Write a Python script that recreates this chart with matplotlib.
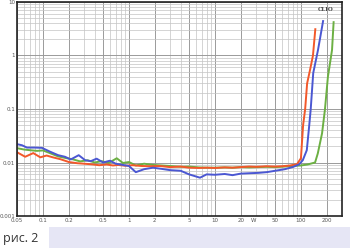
import numpy as np
import matplotlib.pyplot as plt
from matplotlib.ticker import LogLocator, FixedLocator, FixedFormatter, NullFormatter
from matplotlib.patches import Rectangle

# Power (W) and THD (%) for the three curves
p_red = [0.05, 0.062, 0.077, 0.093, 0.11, 0.13, 0.16, 0.2, 0.25, 0.3, 0.38, 0.45,
         0.55, 0.65, 0.75, 0.9, 1.1, 1.4, 1.8, 2.3, 3, 4, 5, 6.5, 8, 10, 13, 16,
         20, 25, 30, 40, 50, 60, 75, 90, 100, 106, 112, 118, 128, 138, 147]
thd_red = [0.0155, 0.0128, 0.0150, 0.0125, 0.0135, 0.0125, 0.0115, 0.0102, 0.0097,
           0.0095, 0.0092, 0.0089, 0.0092, 0.0088, 0.0090, 0.0087, 0.0089, 0.0086,
           0.0085, 0.0086, 0.0082, 0.0084, 0.0080, 0.0079, 0.0080, 0.0079, 0.0081,
           0.0080, 0.0082, 0.0084, 0.0083, 0.0085, 0.0084, 0.0085, 0.0088, 0.0093,
           0.012, 0.05, 0.10, 0.30, 0.55, 1.0, 3.1]

p_blue = [0.05, 0.057, 0.065, 0.08, 0.097, 0.12, 0.15, 0.18, 0.21, 0.26, 0.31, 0.36,
          0.42, 0.5, 0.6, 0.7, 0.85, 1.0, 1.2, 1.5, 1.9, 2.4, 3, 4, 5, 6.7, 8, 10,
          13, 16, 20, 25, 32, 40, 50, 65, 80, 95, 105, 117, 125, 130, 139, 158, 181]
thd_blue = [0.022, 0.021, 0.019, 0.019, 0.0188, 0.016, 0.0137, 0.0128, 0.0114,
            0.0137, 0.0110, 0.0106, 0.0118, 0.0100, 0.0108, 0.0095, 0.0090, 0.0086,
            0.0066, 0.0075, 0.0080, 0.0076, 0.0072, 0.0070, 0.0060, 0.0052, 0.0060,
            0.0059, 0.0061, 0.0058, 0.0062, 0.0063, 0.0064, 0.0066, 0.0070, 0.0075,
            0.0082, 0.0092, 0.0110, 0.017, 0.05, 0.1, 0.47, 1.27, 4.4]

p_green = [0.05, 0.06, 0.07, 0.085, 0.1, 0.12, 0.15, 0.18, 0.22, 0.27, 0.33, 0.4,
           0.48, 0.58, 0.72, 0.85, 1.0, 1.2, 1.5, 1.9, 2.4, 3, 4, 5, 6.5, 8, 10,
           13, 16, 20, 25, 32, 40, 50, 65, 80, 100, 120, 146, 157, 176, 190, 206,
           230, 240]
thd_green = [0.0185, 0.0175, 0.0170, 0.0165, 0.0168, 0.0150, 0.0130, 0.0122, 0.0115,
             0.0105, 0.0110, 0.0100, 0.0106, 0.0098, 0.0120, 0.0098, 0.0102, 0.0088,
             0.0095, 0.0090, 0.0088, 0.0086, 0.0083, 0.0084, 0.0081, 0.0080, 0.0080,
             0.0081, 0.0080, 0.0082, 0.0081, 0.0082, 0.0083, 0.0082, 0.0084, 0.0086,
             0.0088, 0.0092, 0.0100, 0.0147, 0.035, 0.096, 0.4, 1.27, 4.2]

x_ticks = [0.05, 0.1, 0.2, 0.5, 1, 2, 5, 10, 20, 50, 100, 200]
x_labels = ['0.05', '0.1', '0.2', '0.5', '1', '2', '5', '10', '20', '50', '100', '200']
y_ticks = [0.001, 0.01, 0.1, 1, 10]
y_labels = ['0.001', '0.01', '0.1', '1', '10']

fig = plt.figure(figsize=(3.5, 2.48), dpi=100)
fig.patch.set_facecolor('white')
ax = fig.add_axes([0.049, 0.129, 0.928, 0.863])

ax.plot(p_green, thd_green, color='#6cb043', lw=1.4)
ax.plot(p_red, thd_red, color='#f2582a', lw=1.4)
ax.plot(p_blue, thd_blue, color='#4b57d2', lw=1.4)

ax.set_xscale('log')
ax.set_yscale('log')
ax.set_xlim(0.05, 300)
ax.set_ylim(0.001, 10)

ax.xaxis.set_major_locator(FixedLocator(x_ticks))
ax.xaxis.set_major_formatter(FixedFormatter(x_labels))
ax.xaxis.set_minor_locator(LogLocator(base=10, subs=np.arange(2, 10), numticks=20))
ax.xaxis.set_minor_formatter(NullFormatter())
ax.yaxis.set_major_locator(FixedLocator(y_ticks))
ax.yaxis.set_major_formatter(FixedFormatter(y_labels))
ax.yaxis.set_minor_locator(LogLocator(base=10, subs=np.arange(2, 10), numticks=20))
ax.yaxis.set_minor_formatter(NullFormatter())

ax.grid(True, which='major', color='#9a9a9a', lw=0.7)
ax.grid(True, which='minor', color='#c4c4c4', lw=0.5)
ax.set_axisbelow(True)
ax.tick_params(which='both', length=0, labelsize=4, colors='#555555', pad=1.5)

for s in ax.spines.values():
    s.set_color('#222222')
    s.set_linewidth(1.2)

# "W" unit next to the 20 label
ax.annotate('W', xy=(28, 0), xycoords=('data', 'axes fraction'), xytext=(0, -1.5),
            textcoords='offset points', fontsize=4, color='#555555',
            ha='center', va='top')
ax.text(0.975, 0.975, 'CLIO', transform=ax.transAxes, fontsize=4, color='#444444',
        ha='right', va='top', family='DejaVu Serif', fontweight='bold')

fig.patches.append(Rectangle((49 / 350, 0), 1, 21 / 248, transform=fig.transFigure,
                             facecolor='#e6e6f5', edgecolor='none'))
fig.text(0.008, 0.04, 'рис. 2', fontsize=9, color='#333333', family='Open Sans',
         va='center', ha='left')

fig.savefig('out.png', dpi=100)
